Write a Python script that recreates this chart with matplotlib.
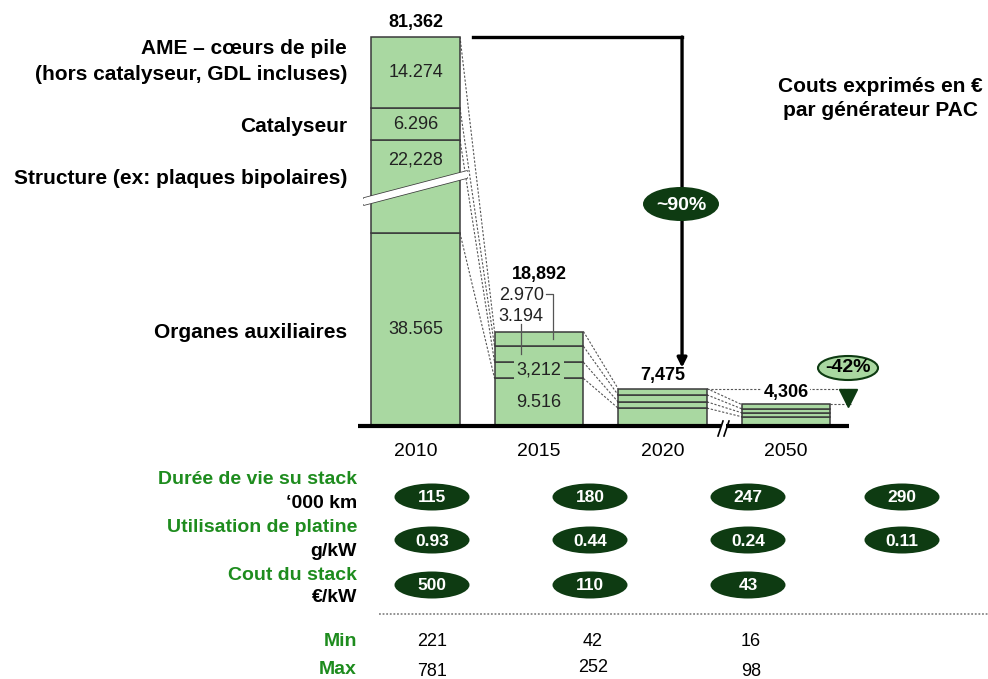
import numpy as np
import matplotlib.pyplot as plt
from matplotlib.patches import Ellipse, Polygon

plt.rcParams['font.family'] = ['Liberation Sans', 'DejaVu Sans']

# --- donnees (couts en EUR par generateur PAC) ---
years = ["2010", "2015", "2020", "2050"]
totals = [81362, 18892, 7475, 4306]
total_labels = ["81,362", "18,892", "7,475", "4,306"]
# segments du bas vers le haut
organes = [38565, 9516, 3575, 1856]
structure = [22228, 3212, 1250, 800]
catalyseur = [6296, 3194, 1400, 800]
ame = [14274, 2970, 1250, 850]
labels_2010 = ["38.565", "22,228", "6.296", "14.274"]
labels_2015 = ["9.516", "3,212", "3.194", "2.970"]
seg_names = ["Organes auxiliaires", "Structure (ex: plaques bipolaires)", "Catalyseur",
             "AME – cœurs de pile\n(hors catalyseur, GDL incluses)"]

row_titles = ["Durée de vie su stack", "Utilisation de platine", "Cout du stack"]
row_units = ["‘000 km", "g/kW", "€/kW"]
duree_vie = [115, 180, 247, 290]
platine = [0.93, 0.44, 0.24, 0.11]
cout_stack = [500, 110, 43]
cout_min = [221, 42, 16]
cout_max = [781, 252, 98]

# --- styles / mise en page ---
GREEN = '#a9d8a1'
EDGE = '#3a3a3a'
DKGREEN = '#0e3b12'
TXTGREEN = '#1e8c1e'
W, H = 988, 679
BASE = 426          # pixel de la ligne de base
PX = 200            # unites par pixel
BREAK_2010 = 3560   # partie cachee par la coupure
bw = 0.72

fig = plt.figure(figsize=(W / 100, H / 100), dpi=100)
ax = fig.add_axes([358 / W, (H - BASE) / H, (849 - 358) / W, BASE / H])
ax.set_xlim(-0.466, 3.51)
ax.set_ylim(0, BASE * PX)
ax.axis('off')
ov = fig.add_axes([0, 0, 1, 1])
ov.set_xlim(0, W)
ov.set_ylim(H, 0)
ov.axis('off')
ov.set_zorder(3)

x = np.arange(len(years))
disp = np.array([organes, structure, catalyseur, ame], float)
disp[1, 0] -= BREAK_2010
tops = np.cumsum(disp, axis=0)
bottoms = tops - disp

for k in range(4):
    ax.bar(x, disp[k], bw, bottom=bottoms[k], color=GREEN, edgecolor=EDGE,
           linewidth=1.1, zorder=2)

# lignes pointillees entre barres
for i in range(3):
    for k in range(4):
        ax.plot([x[i] + bw / 2, x[i + 1] - bw / 2], [tops[k, i], tops[k, i + 1]],
                ls=(0, (2, 1.5)), color='#555555', lw=0.8, zorder=1)

# ligne de base avec coupure
ax.plot([-0.466, 2.474], [0, 0], color='k', lw=3, solid_capstyle='butt', clip_on=False, zorder=3)
ax.plot([2.514, 3.51], [0, 0], color='k', lw=3, solid_capstyle='butt', clip_on=False, zorder=3)
ov.plot([718, 723], [436, 421], color='k', lw=1.2)
ov.plot([724, 729], [436, 421], color='k', lw=1.2)

# totaux
offs = [14, 57, 13, 12]
for i in range(4):
    bb = dict(boxstyle='square,pad=0.1', fc='white', ec='none') if i == 3 else None
    ax.annotate(total_labels[i], (x[i], tops[3, i]), xytext=(0, offs[i]),
                textcoords='offset pixels', ha='center', va='center',
                fontsize=13, fontweight='bold', bbox=bb, zorder=6)

# annees
for i, yr in enumerate(years):
    ax.annotate(yr, (x[i], 0), xytext=(0, -26), textcoords='offset pixels',
                ha='center', va='center', fontsize=14)

# valeurs 2010
for k in range(4):
    yv = bottoms[k, 0] + disp[k, 0] / 2
    if k == 1:
        yv = tops[1, 0] - 20 * PX
    ax.text(x[0], yv, labels_2010[k], ha='center', va='center', fontsize=13,
            color='#222222', zorder=5)

# valeurs 2015
ax.text(x[1], bottoms[0, 1] + disp[0, 1] / 2, labels_2015[0], ha='center', va='center',
        fontsize=13, color='#222222', zorder=5)
ax.text(x[1], bottoms[1, 1] + disp[1, 1] / 2, labels_2015[1], ha='center', va='center',
        fontsize=13, color='#222222', zorder=5,
        bbox=dict(boxstyle='square,pad=0.15', fc=GREEN, ec='none'))
xlab = x[1] - 0.145
y3194 = tops[3, 1] + 15 * PX
y2970 = tops[3, 1] + 36 * PX
ax.text(xlab, y3194, labels_2015[2], ha='center', va='center', fontsize=13, color='#222222')
ax.text(xlab, y2970, labels_2015[3], ha='center', va='center', fontsize=13, color='#222222')
xl1 = x[1] + 0.113
ax.plot([x[1] + 0.057, xl1, xl1], [y2970 + 2 * PX, y2970 + 2 * PX,
        bottoms[3, 1] + disp[3, 1] / 2], color='#555555', lw=0.9, zorder=4)
ax.plot([xlab, xlab], [y3194 - 7 * PX, bottoms[2, 1] + disp[2, 1] / 2],
        color='#555555', lw=0.9, zorder=4)

# coupure de la barre 2010
ov.add_patch(Polygon([(364, 198), (467, 171), (467, 178), (364, 205)], closed=True,
                     fc='white', ec='none', zorder=4))
ov.plot([364, 467], [198, 171], color=EDGE, lw=1.1)
ov.plot([364, 467], [205, 178], color=EDGE, lw=1.1)

# fleche -90%
xa = x[2] + 0.158
y0 = tops[3, 0]
tip = tops[3, 2] + 21 * PX
ax.plot([x[0] + bw / 2 + 0.106, xa], [y0, y0], color='k', lw=2.4,
        solid_capstyle='projecting', zorder=4)
ax.annotate('', xy=(xa, tip), xytext=(xa, y0),
            arrowprops=dict(arrowstyle='-|>', lw=2.4, color='k', shrinkA=0, shrinkB=0,
                            mutation_scale=14), zorder=4)
ov.add_patch(Ellipse((681, 204), 76, 34, fc=DKGREEN, ec='none', zorder=6))
ov.text(681, 205, "~90%", ha='center', va='center', color='white', fontsize=14,
        fontweight='bold', zorder=7)

# -42%
for i in (2, 3):
    ax.plot([x[i] + bw / 2, 3.53], [tops[3, i], tops[3, i]], ls=(0, (2, 1.5)),
            color='#555555', lw=0.8, clip_on=False, zorder=1)
ax.plot(3.5, (tops[3, 2] + tops[3, 3]) / 2 - 1 * PX, marker='v', ms=13, color=DKGREEN,
        clip_on=False, zorder=5)
ov.add_patch(Ellipse((848, 368), 60, 24, fc=GREEN, ec=DKGREEN, lw=1.5, zorder=6))
ov.text(848, 368, "-42%", ha='center', va='center', fontsize=14, fontweight='bold', zorder=7)

# libelles des segments
name_rows = [(seg_names[3].split('\n')[0], 48), (seg_names[3].split('\n')[1], 75),
             (seg_names[2], 127), (seg_names[1], 178), (seg_names[0], 332)]
for txt, yy in name_rows:
    ov.text(347, yy, txt, ha='right', va='center', fontsize=15, fontweight='bold')

ov.text(880, 87, "Couts exprimés en €", ha='center', va='center', fontsize=15, fontweight='bold')
ov.text(880, 110, "par générateur PAC", ha='center', va='center', fontsize=15, fontweight='bold')

# tableau du bas
col_x = [432, 590, 748, 902]
row_y = [497, 540, 585]
title_y = [480, 527, 575]
unit_y = [503, 552, 597]
rows = [[str(v) for v in duree_vie], [f"{v:.2f}" for v in platine], [str(v) for v in cout_stack]]
for r in range(3):
    ov.text(357, title_y[r], row_titles[r], ha='right', va='center', fontsize=14,
            fontweight='bold', color=TXTGREEN)
    ov.text(357, unit_y[r], row_units[r], ha='right', va='center', fontsize=14,
            fontweight='bold', color='black')
    for c, val in enumerate(rows[r]):
        ov.add_patch(Ellipse((col_x[c], row_y[r]), 75, 27, fc=DKGREEN, ec='none'))
        ov.text(col_x[c], row_y[r] + 1, val, ha='center', va='center', color='white',
                fontsize=12.5, fontweight='bold')

ov.plot([379, 988], [614, 614], ls=(0, (1, 1)), color='#888888', lw=1.3)

ov.text(357, 641, "Min", ha='right', va='center', fontsize=14, fontweight='bold', color=TXTGREEN)
ov.text(357, 669, "Max", ha='right', va='center', fontsize=14, fontweight='bold', color=TXTGREEN)
min_x = [432, 593, 751]
max_y = [671, 667, 671]
for c in range(3):
    ov.text(min_x[c], 641, str(cout_min[c]), ha='center', va='center', fontsize=13)
    ov.text(min_x[c], max_y[c], str(cout_max[c]), ha='center', va='center', fontsize=13)

fig.savefig('out.png', dpi=100)
